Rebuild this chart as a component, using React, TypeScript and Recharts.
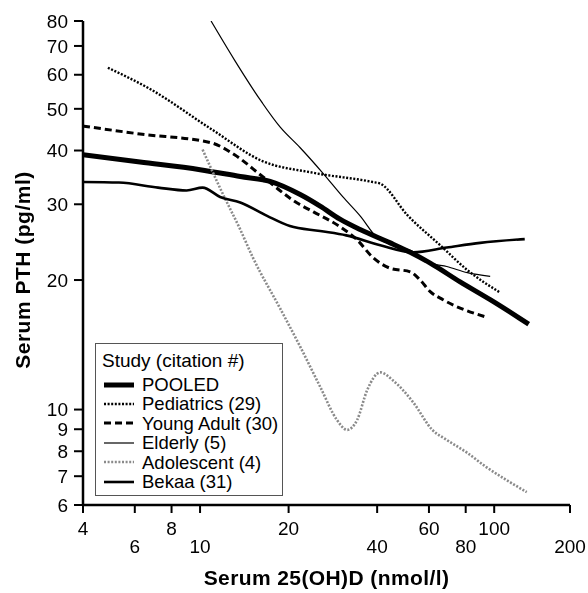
import { LineChart, Line, XAxis, YAxis, Legend, Label } from "recharts";

// last x tick sits at the axis end in the source figure (printed "200")
const xTicks = [4, 6, 8, 10, 20, 40, 60, 80, 100, 181];
const xTickLabels = ["4", "6", "8", "10", "20", "40", "60", "80", "100", "200"];
const yTicks = [6, 7, 8, 9, 10, 20, 30, 40, 50, 60, 70, 80];

const pooled = [
  { x: 4, y: 39.1 }, { x: 6.25, y: 37.6 }, { x: 10, y: 36.1 }, { x: 13.7, y: 34.8 },
  { x: 17.3, y: 33.9 }, { x: 21.9, y: 31.6 }, { x: 25.6, y: 29.7 }, { x: 29.9, y: 27.7 },
  { x: 35, y: 26.2 }, { x: 44.3, y: 24.4 }, { x: 51.8, y: 23.2 }, { x: 60.6, y: 21.9 },
  { x: 76.6, y: 19.8 }, { x: 96.9, y: 18.0 }, { x: 131, y: 15.8 },
];

const pediatrics = [
  { x: 4.86, y: 62.3 }, { x: 6.76, y: 55.6 }, { x: 10.9, y: 44.9 }, { x: 16.3, y: 37.8 },
  { x: 24.3, y: 35.5 }, { x: 38.6, y: 33.8 }, { x: 41, y: 33.5 }, { x: 50.7, y: 28.3 },
  { x: 65.5, y: 24.1 }, { x: 81, y: 21.1 }, { x: 104.8, y: 18.7 },
];

const youngAdult = [
  { x: 4, y: 45.6 }, { x: 6.25, y: 43.7 }, { x: 10.9, y: 41.7 }, { x: 13.1, y: 39.1 },
  { x: 16.3, y: 34.8 }, { x: 21.4, y: 30.2 }, { x: 24.3, y: 28.8 }, { x: 29.9, y: 26.6 },
  { x: 34.2, y: 24.8 }, { x: 38.6, y: 22.6 }, { x: 44.3, y: 21.3 }, { x: 51.8, y: 20.9 },
  { x: 56, y: 20.0 }, { x: 60.6, y: 18.8 }, { x: 67, y: 18.0 }, { x: 94, y: 16.4 },
];

const elderly = [
  { x: 10.9, y: 80 }, { x: 13.1, y: 64.9 }, { x: 16, y: 52.5 }, { x: 18.7, y: 45.4 },
  { x: 21.9, y: 40.6 }, { x: 26.1, y: 35.5 }, { x: 30.6, y: 31.2 }, { x: 35, y: 28.2 },
  { x: 40, y: 25.1 }, { x: 45.2, y: 24.1 }, { x: 53, y: 23.3 }, { x: 60.6, y: 21.9 },
  { x: 69, y: 21.5 }, { x: 81, y: 20.8 }, { x: 96.9, y: 20.4 },
];

const adolescent = [
  { x: 10.2, y: 40.2 }, { x: 11.9, y: 31.9 }, { x: 13.7, y: 26.2 }, { x: 15.1, y: 22.6 },
  { x: 18.7, y: 17.2 }, { x: 21.9, y: 14.0 }, { x: 25.6, y: 11.3 }, { x: 29.2, y: 9.46 },
  { x: 31.6, y: 8.97 }, { x: 34.2, y: 9.46 }, { x: 37, y: 11.1 }, { x: 41, y: 12.2 },
  { x: 45.2, y: 11.7 }, { x: 53, y: 10.4 }, { x: 61.6, y: 8.97 }, { x: 69, y: 8.5 },
  { x: 81, y: 7.93 }, { x: 94, y: 7.35 }, { x: 110, y: 6.86 }, { x: 129, y: 6.43 },
];

const bekaa = [
  { x: 4, y: 33.8 }, { x: 5.3, y: 33.7 }, { x: 7.2, y: 32.8 }, { x: 9.0, y: 32.3 },
  { x: 10.2, y: 32.8 }, { x: 11.7, y: 31.2 }, { x: 13.7, y: 30.3 }, { x: 16.9, y: 28.2 },
  { x: 20.2, y: 26.7 }, { x: 25.6, y: 26.0 }, { x: 31.4, y: 25.4 }, { x: 41, y: 24.1 },
  { x: 53, y: 23.2 }, { x: 69, y: 23.8 }, { x: 89.6, y: 24.4 }, { x: 127, y: 24.9 },
];

const series = [
  { name: "POOLED", data: pooled, stroke: "#000", width: 5, dash: undefined },
  { name: "Pediatrics (29)", data: pediatrics, stroke: "#000", width: 2.4, dash: "2 1.6" },
  { name: "Young Adult (30)", data: youngAdult, stroke: "#000", width: 3, dash: "7 4" },
  { name: "Elderly (5)", data: elderly, stroke: "#000", width: 1.2, dash: undefined },
  { name: "Adolescent (4)", data: adolescent, stroke: "#8a8a8a", width: 2.6, dash: "2 1.6" },
  { name: "Bekaa (31)", data: bekaa, stroke: "#000", width: 2.6, dash: undefined },
];

const font = "'Liberation Sans', Arial, Helvetica, sans-serif";

const XTick = (props: any) => {
  const { x, y, payload } = props;
  const i = xTicks.indexOf(payload.value);
  return (
    <text x={x} y={y + (i % 2 ? 38 : 20)} textAnchor="middle" fontSize={19} fill="#000" fontFamily={font}>
      {xTickLabels[i]}
    </text>
  );
};

const StudyLegend = () => (
  <div
    style={{
      width: 188,
      height: 153,
      boxSizing: "border-box",
      border: "1.2px solid #555",
      background: "#fff",
      fontFamily: font,
      fontSize: 18.5,
      color: "#000",
      paddingTop: 6,
      textAlign: "left",
    }}
  >
    <div style={{ lineHeight: "22px", marginLeft: 6, marginBottom: 3, fontSize: 19 }}>Study (citation #)</div>
    {series.map((s) => (
      <div key={s.name} style={{ display: "flex", alignItems: "center", height: 19.4, lineHeight: "19.4px" }}>
        <svg width={30} height={10} style={{ marginLeft: 8, marginRight: 8 }}>
          <line x1={0} y1={5} x2={30} y2={5} stroke={s.stroke} strokeWidth={s.width} strokeDasharray={s.dash} />
        </svg>
        <span>{s.name}</span>
      </div>
    ))}
  </div>
);

export default function App() {
  return (
    <div style={{ position: "fixed", left: 8, top: 8 }}>
      <LineChart width={580} height={585} margin={{ top: 13, right: 18, left: 0, bottom: 0 }}>
        <XAxis
          type="number"
          dataKey="x"
          scale="log"
          domain={[4, 181]}
          allowDataOverflow
          ticks={xTicks}
          interval={0}
          tick={<XTick />}
          tickSize={8}
          tickMargin={2}
          height={88}
          axisLine={{ stroke: "#000", strokeWidth: 2.5 }}
          tickLine={{ stroke: "#000", strokeWidth: 2 }}
        >
          <Label
            content={(p: any) => {
              const vb = p.viewBox;
              return (
                <text
                  x={vb.x + vb.width / 2}
                  y={vb.y + 80}
                  textAnchor="middle"
                  fontSize={21}
                  letterSpacing={0.4}
                  fontWeight="bold"
                  fontFamily={font}
                  fill="#000"
                >
                  Serum 25(OH)D (nmol/l)
                </text>
              );
            }}
          />
        </XAxis>
        <YAxis
          type="number"
          dataKey="y"
          scale="log"
          domain={[6, 80]}
          allowDataOverflow
          ticks={yTicks}
          interval={0}
          width={75}
          tickSize={9}
          tickMargin={6}
          tick={{ fontSize: 19, fill: "#000", fontFamily: font }}
          axisLine={{ stroke: "#000", strokeWidth: 2.5 }}
          tickLine={{ stroke: "#000", strokeWidth: 2 }}
        >
          <Label
            content={() => (
              <text
                x={22}
                y={262}
                transform="rotate(-90, 22, 262)"
                textAnchor="middle"
                fontSize={21}
                letterSpacing={0.5}
                fontWeight="bold"
                fontFamily={font}
                fill="#000"
              >
                Serum PTH (pg/ml)
              </text>
            )}
          />
        </YAxis>
        <Legend
          layout="vertical"
          align="center"
          verticalAlign="middle"
          content={<StudyLegend />}
          wrapperStyle={{ left: 87, top: 335, width: 188, height: 153 }}
        />
        {series.map((s) => (
          <Line
            key={s.name}
            data={s.data}
            dataKey="y"
            name={s.name}
            type="monotone"
            stroke={s.stroke}
            strokeWidth={s.width}
            strokeDasharray={s.dash}
            dot={false}
            activeDot={false}
            isAnimationActive={false}
          />
        ))}
      </LineChart>
    </div>
  );
}
